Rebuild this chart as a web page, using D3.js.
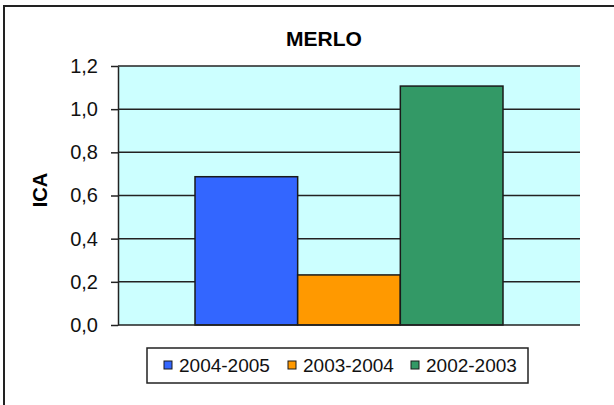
<!DOCTYPE html>
<html>
<head>
<meta charset="utf-8">
<script src="https://cdn.jsdelivr.net/npm/d3@7"></script>
<style>
  html, body { margin: 0; padding: 0; background: #fff; }
  svg { display: block; font-family: "Liberation Sans", Arial, sans-serif; }
</style>
</head>
<body>
<svg id="chart" width="614" height="405"></svg>
<script>
// ICA per season, MERLO
const seasons = ["2004-2005", "2003-2004", "2002-2003"];
const icaValues = [0.687, 0.232, 1.107];
const seasonColors = ["#3366FF", "#FF9900", "#339966"];
const yTicks = [0, 0.2, 0.4, 0.6, 0.8, 1.0, 1.2];
const yTickLabels = ["0,0", "0,2", "0,4", "0,6", "0,8", "1,0", "1,2"];
const chartTitle = "MERLO";
const yTitle = "ICA";

const svg = d3.select("#chart");

// outer frame
svg.append("rect")
  .attr("x", 4).attr("y", 6)
  .attr("width", 640).attr("height", 440)
  .attr("fill", "#fff").attr("stroke", "#222").attr("stroke-width", 2);

const plot = { left: 118, right: 580, top: 66, bottom: 325 };

const y = d3.scaleLinear().domain([0, 1.2]).range([plot.bottom, plot.top]);
const x = d3.scaleBand().domain(seasons)
  .range([plot.left, plot.right])
  .paddingInner(0).paddingOuter(0.75);

// plot background
svg.append("rect")
  .attr("x", plot.left).attr("y", plot.top)
  .attr("width", plot.right - plot.left).attr("height", plot.bottom - plot.top)
  .attr("fill", "#CCFFFF");

// gridlines
svg.append("g")
  .selectAll("line")
  .data(yTicks.slice(1))
  .join("line")
  .attr("x1", plot.left).attr("x2", plot.right)
  .attr("y1", d => y(d)).attr("y2", d => y(d))
  .attr("stroke", "#222").attr("stroke-width", 1.5);

// bars
svg.append("g")
  .selectAll("rect")
  .data(seasons)
  .join("rect")
  .attr("x", d => x(d))
  .attr("y", (d, i) => y(icaValues[i]))
  .attr("width", x.bandwidth())
  .attr("height", (d, i) => y(0) - y(icaValues[i]))
  .attr("fill", (d, i) => seasonColors[i])
  .attr("stroke", "#1a1a1a").attr("stroke-width", 1.5);

// y axis
const yAxis = d3.axisLeft(y)
  .tickValues(yTicks)
  .tickFormat((d, i) => yTickLabels[i])
  .tickSizeInner(7).tickSizeOuter(0).tickPadding(13);
const yG = svg.append("g")
  .attr("transform", `translate(${plot.left},0)`)
  .call(yAxis);
yG.select(".domain").attr("stroke", "#222").attr("stroke-width", 1.5);
yG.selectAll(".tick line").attr("stroke", "#222").attr("stroke-width", 1.5);
yG.selectAll(".tick text")
  .attr("font-size", 20).attr("fill", "#111")
  .attr("font-family", "Liberation Sans, Arial, sans-serif");

// x axis line
svg.append("line")
  .attr("x1", plot.left).attr("x2", plot.right)
  .attr("y1", plot.bottom).attr("y2", plot.bottom)
  .attr("stroke", "#222").attr("stroke-width", 1.5);

// title
svg.append("text")
  .attr("x", 324).attr("y", 46)
  .attr("text-anchor", "middle")
  .attr("font-size", 21).attr("font-weight", "bold")
  .attr("fill", "#000")
  .text(chartTitle);

// y axis title
svg.append("text")
  .attr("transform", "translate(47,190) rotate(-90)")
  .attr("text-anchor", "middle")
  .attr("font-size", 20).attr("font-weight", "bold")
  .attr("fill", "#000")
  .text(yTitle);

// legend
const legend = svg.append("g");
legend.append("rect")
  .attr("x", 147).attr("y", 348)
  .attr("width", 381).attr("height", 35)
  .attr("fill", "#fff").attr("stroke", "#222").attr("stroke-width", 1.5);

const legendX = [164, 288, 411];
const items = legend.selectAll("g.item")
  .data(seasons)
  .join("g")
  .attr("class", "item")
  .attr("transform", (d, i) => `translate(${legendX[i]},365)`);
items.append("rect")
  .attr("x", 0).attr("y", -4)
  .attr("width", 8).attr("height", 8)
  .attr("fill", (d, i) => seasonColors[i])
  .attr("stroke", "#1a1a1a").attr("stroke-width", 1);
items.append("text")
  .attr("x", 15).attr("y", 0)
  .attr("dy", "0.35em")
  .attr("font-size", 19).attr("fill", "#111")
  .text(d => d);
</script>
</body>
</html>
